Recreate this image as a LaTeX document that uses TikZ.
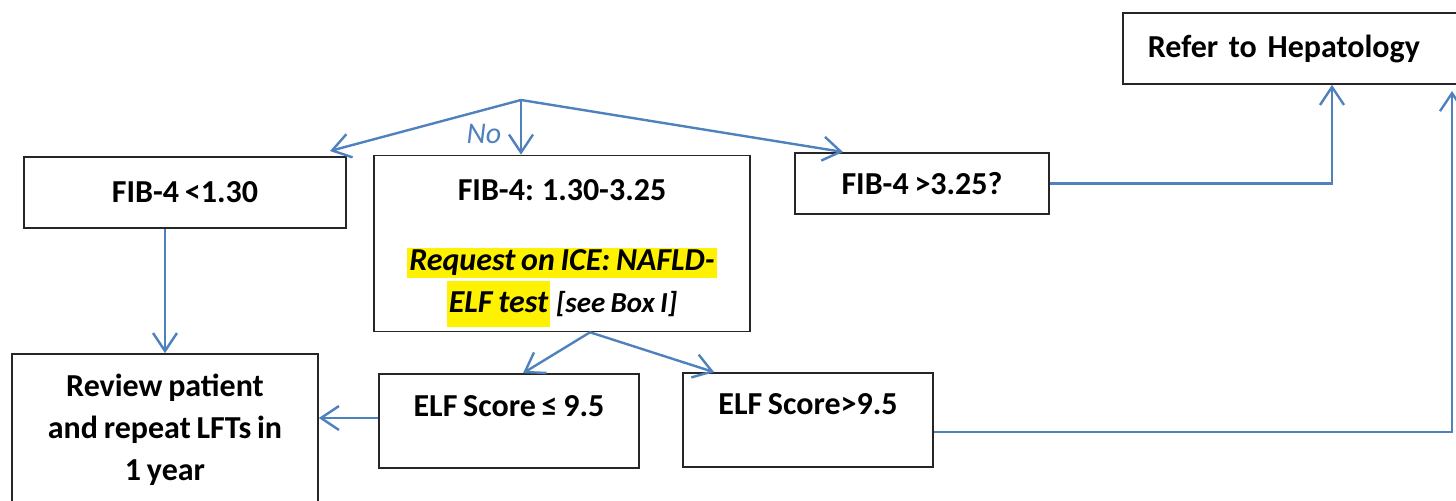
\documentclass[tikz,border=0pt]{standalone}
\usepackage{fontspec}
\setmainfont{Carlito}[WordSpace=0.8]
\usepackage{xcolor}
\usepackage{tikz}
\usetikzlibrary{arrows.meta, positioning}
\definecolor{linkblue}{RGB}{79,129,189}
% yellow marker behind a phrase
\newcommand{\hilite}[2][]{{\setlength{\fboxsep}{1pt}\colorbox{yellow}{#1#2}}}
\tikzset{
  flowbox/.style={draw=black!85, line width=0.8pt, align=center, inner sep=2pt,
                  font=\bfseries\fontsize{16}{21}\selectfont},
  flowarrow/.style={-{Straight Barb[length=9pt, width=12pt]}, line width=1.2pt, linkblue}
}

\begin{document}
\begin{tikzpicture}[x=0.5pt, y=-0.5pt]
\useasboundingbox (0,0) rectangle (1456,501);
\clip (0,0) rectangle (1456,501);

% FIB-4 bands
\node[flowbox, minimum width=161pt, minimum height=35.5pt] (fiblow) at (185,192.5) {FIB-4 <1.30};
\node[flowbox, minimum width=188pt, minimum height=88pt] (fibmid) at (562,243.5) {
  \rule{0pt}{20.5pt}FIB-4: 1.30-3.25\\[14pt]
  {\itshape\hilite{Request on ICE: NAFLD-}}\\
  {\itshape\hilite[\strut]{ELF test} {\fontsize{14.5}{21}\selectfont[see Box I]}}
};
\node[flowbox, minimum width=127pt, minimum height=30.5pt] (fibhigh) at (922,183.5) {FIB-4 >3.25?};

% Outcomes
\node[flowbox, anchor=west, minimum height=35.5pt, text width=160pt, align=left, inner xsep=12.5pt] (hepat) at (1122,48.5) {Refer to Hepatology};
\node[flowbox, minimum width=153pt, minimum height=76pt] (review) at (165,430) {Review patient\\and repeat LFTs in\\1 year};

% ELF results
\node[flowbox, minimum width=130pt, minimum height=47pt, text height=11pt, text depth=15pt] (elflow) at (509,421) {ELF Score ≤ 9.5};
\node[flowbox, minimum width=125pt, minimum height=47pt, text height=11pt, text depth=16pt] (elfhigh) at (808,420) {ELF Score>9.5};

% Split points
\coordinate (split) at (521,100);
\coordinate (tipL) at (330,151);
\coordinate (tipR) at (843,152);
\coordinate (hepin) at (1452,91);

% Arrows
\draw[flowarrow] (split) -- (tipL);
\draw[flowarrow] (split) -- (split |- fibmid.north);
\draw[flowarrow] (split) -- (tipR);
\node[font=\itshape\fontsize{15}{18}\selectfont, text=linkblue] (nolabel) at (484,134) {No};

\draw[flowarrow] (review.north |- fiblow.south) -- (review.north);
\draw[flowarrow] ([xshift=14pt]fibmid.south) -- ([xshift=7pt]elflow.north);
\draw[flowarrow] ([xshift=14pt]fibmid.south) -- ([xshift=16pt]elfhigh.north west);
\draw[flowarrow] ([yshift=1.5pt]elflow.west) -- ([yshift=1.5pt]elflow.west -| review.east);
\draw[flowarrow] ([yshift=-6pt]elfhigh.east) -| (hepin);
\draw[flowarrow] (fibhigh.east) -| ([xshift=105pt]hepat.south west);

\end{tikzpicture}
\end{document}
